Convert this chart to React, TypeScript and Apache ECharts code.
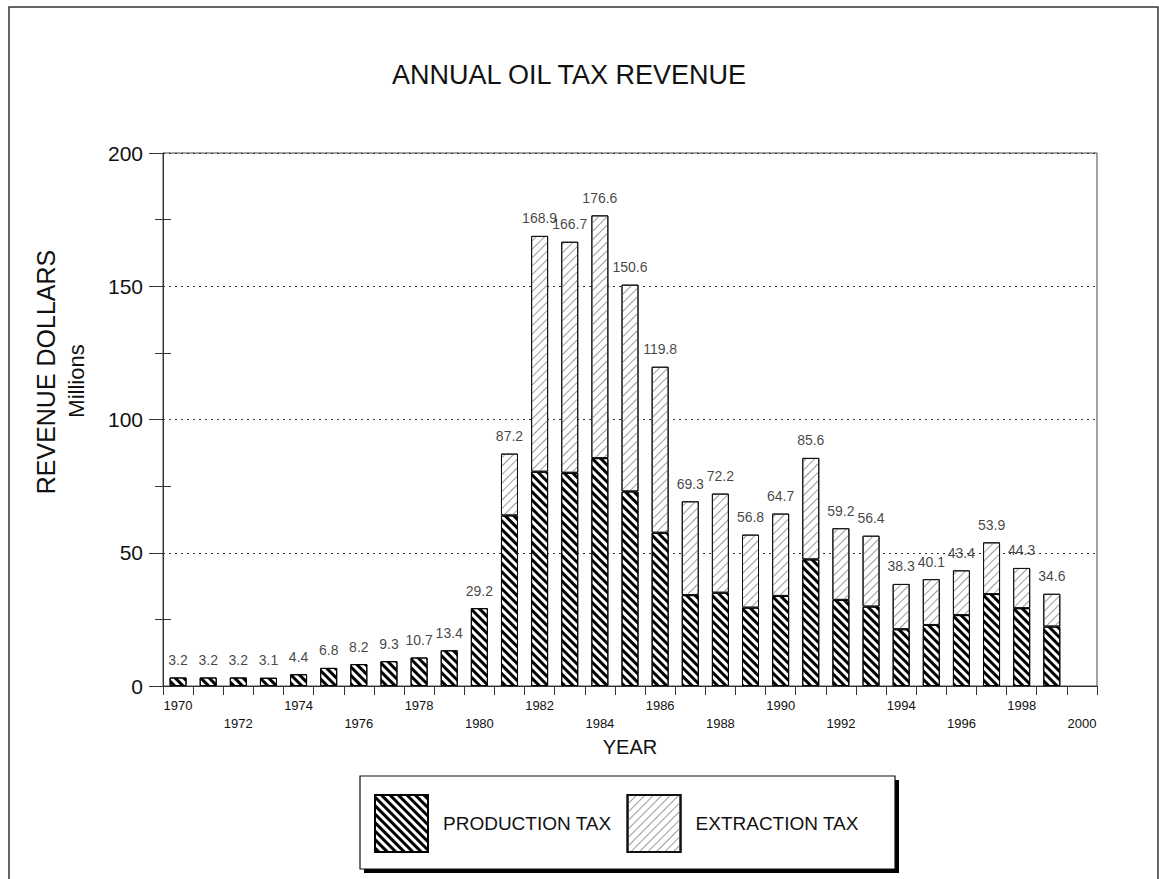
import React, { useEffect, useRef } from "react";
import * as echarts from "echarts";

// ---- data ----
const YEARS = [
  "1970", "1971", "1972", "1973", "1974", "1975", "1976", "1977", "1978", "1979",
  "1980", "1981", "1982", "1983", "1984", "1985", "1986", "1987", "1988", "1989",
  "1990", "1991", "1992", "1993", "1994", "1995", "1996", "1997", "1998", "1999", "2000",
];

const PRODUCTION_TAX = [
  3.2, 3.2, 3.2, 3.1, 4.4, 6.8, 8.2, 9.3, 10.7, 13.4,
  29.2, 64.0, 80.4, 80.0, 85.5, 73.0, 57.5, 34.1, 35.0, 29.4,
  33.8, 47.5, 32.3, 29.8, 21.3, 22.9, 26.6, 34.5, 29.2, 22.3,
];

const EXTRACTION_TAX = [
  null, null, null, null, null, null, null, null, null, null,
  null, 23.2, 88.5, 86.7, 91.1, 77.6, 62.3, 35.2, 37.2, 27.4,
  30.9, 38.1, 26.9, 26.6, 17.0, 17.2, 16.8, 19.4, 15.1, 12.3,
];

const Y_TICKS = { min: 0, max: 200, interval: 50 };

const TITLE = "ANNUAL OIL TAX REVENUE";
const Y_NAME = "REVENUE DOLLARS";
const Y_SUBNAME = "Millions";
const X_NAME = "YEAR";
const SERIES_NAMES = ["PRODUCTION TAX", "EXTRACTION TAX"];

const FONT = "'Liberation Sans', Arial, Helvetica, sans-serif";

export default function App() {
  const ref = useRef<HTMLDivElement>(null);

  useEffect(() => {
    if (!ref.current) return;
    const chart = echarts.init(ref.current, null, { renderer: "svg" });

    const totals = PRODUCTION_TAX.map((p, i) => p + (EXTRACTION_TAX[i] ?? 0));

    const option: any = {
      animation: false,
      backgroundColor: "#ffffff",
      textStyle: { fontFamily: FONT, color: "#111" },
      title: {
        text: TITLE,
        left: 392,
        top: 61,
        padding: 0,
        textStyle: { fontFamily: FONT, fontSize: 27, fontWeight: "normal", color: "#111" },
      },
      grid: {
        left: 163,
        top: 153,
        right: 62,
        bottom: 193,
        show: true,
        borderColor: "#444",
        borderWidth: 1,
        backgroundColor: "transparent",
      },
      legend: {
        data: SERIES_NAMES,
        left: 374,
        top: 794,
        padding: 0,
        icon: "rect",
        itemWidth: 53,
        itemHeight: 57,
        itemGap: 15,
        selectedMode: false,
        z: 10,
        textStyle: { fontFamily: FONT, fontSize: 19, color: "#111", padding: [0, 0, 0, 10] },
      },
      xAxis: {
        type: "category",
        data: YEARS,
        boundaryGap: true,
        name: X_NAME,
        nameLocation: "middle",
        nameGap: 49,
        nameTextStyle: { fontFamily: FONT, fontSize: 20, color: "#111" },
        axisLine: { lineStyle: { color: "#333", width: 1 } },
        axisTick: { show: true, interval: 0, alignWithLabel: false, length: 9, lineStyle: { color: "#333" } },
        axisLabel: {
          interval: 0,
          margin: 10,
          fontFamily: FONT,
          fontSize: 13,
          lineHeight: 18,
          color: "#111",
          formatter: (v: string, i: number) => (i % 4 === 0 ? v : i % 4 === 2 ? "\n" + v : ""),
        },
        splitLine: { show: false },
      },
      yAxis: [
        {
          type: "value",
          min: Y_TICKS.min,
          max: Y_TICKS.max,
          interval: Y_TICKS.interval,
          axisLine: { show: true, lineStyle: { color: "#333", width: 1 } },
          axisTick: { show: true, length: 14, lineStyle: { color: "#333" } },
          minorTick: { show: true, splitNumber: 2, length: 8, lineStyle: { color: "#333" } },
          axisLabel: { fontFamily: FONT, fontSize: 21, color: "#111", margin: 20 },
          splitLine: { show: true, lineStyle: { color: "#333", type: [2, 4], width: 1 } },
        },
        {
          type: "value",
          position: "left",
          min: Y_TICKS.min,
          max: Y_TICKS.max,
          interval: Y_TICKS.interval,
          axisLine: { show: false },
          axisTick: { show: false, inside: true },
          minorTick: { show: true, splitNumber: 2, length: 8, lineStyle: { color: "#333" } },
          axisLabel: { show: false },
          splitLine: { show: false },
        },
      ],
      series: [
        {
          name: SERIES_NAMES[0],
          type: "bar",
          stack: "tax",
          barWidth: 17,
          data: PRODUCTION_TAX,
          itemStyle: {
            color: "#ffffff",
            borderColor: "#000",
            borderWidth: 1,
            decal: {
              symbol: "rect",
              symbolSize: 1,
              color: "#000",
              dashArrayX: [1, 0],
              dashArrayY: [2.6, 2.6],
              rotation: Math.PI / 4,
            },
          },
        },
        {
          name: SERIES_NAMES[1],
          type: "bar",
          stack: "tax",
          barWidth: 17,
          data: EXTRACTION_TAX,
          itemStyle: {
            color: "#ffffff",
            borderColor: "#111",
            borderWidth: 1,
            decal: {
              symbol: "rect",
              symbolSize: 1,
              color: "#9a9a9a",
              dashArrayX: [1, 0],
              dashArrayY: [1, 4.2],
              rotation: -Math.PI / 4,
            },
          },
        },
        {
          name: "TOTAL",
          type: "scatter",
          data: totals,
          symbolSize: 1,
          silent: true,
          itemStyle: { color: "rgba(0,0,0,0)" },
          label: {
            show: true,
            position: "top",
            distance: 10,
            fontFamily: FONT,
            fontSize: 14,
            color: "#111",
            formatter: (p: any) => Number(p.value).toFixed(1),
          },
          z: 5,
        },
      ],
      graphic: [
        {
          type: "rect",
          z: 0,
          silent: true,
          shape: { x: 9, y: 7, width: 1149, height: 900 },
          style: { fill: "none", stroke: "#333", lineWidth: 1.5 },
        },
        {
          type: "rect",
          z: 0,
          silent: true,
          shape: { x: 364, y: 780, width: 535, height: 93 },
          style: { fill: "#000" },
        },
        {
          type: "rect",
          z: 1,
          silent: true,
          shape: { x: 360, y: 776, width: 535, height: 93 },
          style: { fill: "#fff", stroke: "#111", lineWidth: 1.2 },
        },
        {
          type: "text",
          z: 1,
          x: 46,
          y: 372,
          rotation: Math.PI / 2,
          style: {
            text: Y_NAME,
            font: `25px ${FONT}`,
            fill: "#111",
            textAlign: "center",
            textVerticalAlign: "middle",
          },
        },
        {
          type: "text",
          z: 1,
          x: 76,
          y: 381,
          rotation: Math.PI / 2,
          style: {
            text: Y_SUBNAME,
            font: `22px ${FONT}`,
            fill: "#111",
            textAlign: "center",
            textVerticalAlign: "middle",
          },
        },
      ],
    };

    chart.setOption(option);
    return () => chart.dispose();
  }, []);

  return (
    <div
      ref={ref}
      style={{ position: "fixed", left: 0, top: 0, width: 1159, height: 879, background: "#fff" }}
    />
  );
}
